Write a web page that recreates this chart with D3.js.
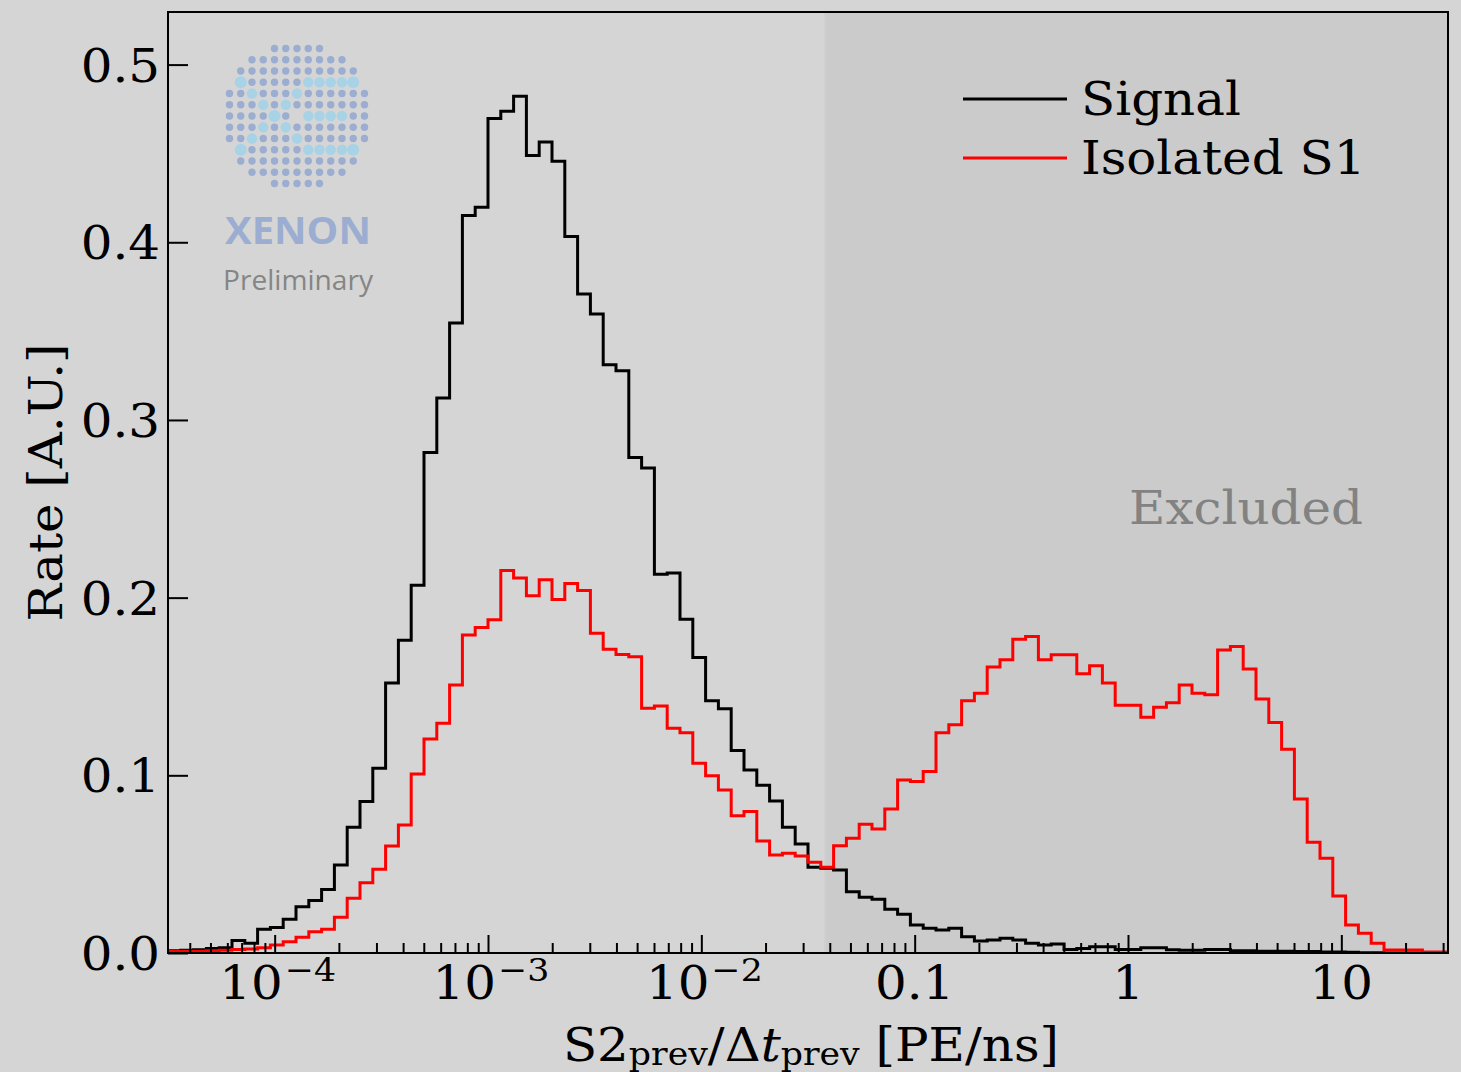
<!DOCTYPE html>
<html>
<head>
<meta charset="utf-8">
<script src="https://cdn.jsdelivr.net/npm/d3@7"></script>
<style>
  html, body { margin: 0; padding: 0; background: #d5d5d5; }
  svg { display: block; }
</style>
</head>
<body>
<svg id="chart" width="1461" height="1072"></svg>
<script>
// ---------------- DATA ----------------
const seriesNames = ["Signal", "Isolated S1"];
const seriesColors = ["#000000", "#ff0000"];
// log-spaced histogram: 100 bins from 10^-4.5 to 10^1.5 PE/ns
const binLogMin = -4.5;
const binLogMax = 1.5;
const signalRate = [
  0.0012, 0.0015, 0.0018, 0.0025, 0.0030, 0.0070, 0.0055, 0.0133, 0.0143, 0.0190,
  0.0260, 0.0295, 0.0358, 0.0495, 0.0708, 0.0852, 0.1040, 0.1520, 0.1760, 0.2070,
  0.2817, 0.3123, 0.3546, 0.4150, 0.4197, 0.4696, 0.4737, 0.4822, 0.4488, 0.4565,
  0.4456, 0.4033, 0.3709, 0.3596, 0.3311, 0.3277, 0.2789, 0.2729, 0.2132, 0.2138,
  0.1879, 0.1663, 0.1419, 0.1374, 0.1139, 0.1030, 0.0944, 0.0856, 0.0708, 0.0614,
  0.0483, 0.0477, 0.0467, 0.0345, 0.0314, 0.0302, 0.0246, 0.0218, 0.0158, 0.0139,
  0.0130, 0.0139, 0.0092, 0.0068, 0.0073, 0.0083, 0.0073, 0.0055, 0.0045, 0.0050,
  0.0020, 0.0025, 0.0035, 0.0035, 0.0020, 0.0020, 0.0030, 0.0030, 0.0018, 0.0015,
  0.0015, 0.0020, 0.0020, 0.0012, 0.0012, 0.0010, 0.0010, 0.0010, 0.0008, 0.0008,
  0.0006, 0.0005, 0.0004, 0.0002, 0.0001, 0.0000, 0.0000, 0.0000, 0.0000, 0.0000
];
const isolatedS1Rate = [
  0.0008, 0.0010, 0.0010, 0.0012, 0.0015, 0.0020, 0.0022, 0.0030, 0.0045, 0.0064,
  0.0088, 0.0120, 0.0133, 0.0201, 0.0308, 0.0396, 0.0471, 0.0602, 0.0721, 0.1008,
  0.1205, 0.1293, 0.1509, 0.1790, 0.1832, 0.1875, 0.2153, 0.2110, 0.2010, 0.2100,
  0.1990, 0.2080, 0.2040, 0.1800, 0.1710, 0.1680, 0.1668, 0.1378, 0.1390, 0.1265,
  0.1240, 0.1068, 0.0998, 0.0918, 0.0773, 0.0796, 0.0630, 0.0552, 0.0561, 0.0546,
  0.0511, 0.0483, 0.0604, 0.0646, 0.0725, 0.0698, 0.0811, 0.0974, 0.0965, 0.1021,
  0.1240, 0.1284, 0.1420, 0.1462, 0.1609, 0.1650, 0.1766, 0.1781, 0.1650, 0.1678,
  0.1678, 0.1571, 0.1616, 0.1519, 0.1395, 0.1395, 0.1327, 0.1383, 0.1409, 0.1509,
  0.1462, 0.1453, 0.1706, 0.1725, 0.1599, 0.1430, 0.1297, 0.1147, 0.0867, 0.0623,
  0.0533, 0.0321, 0.0158, 0.0111, 0.0055, 0.0017, 0.0017, 0.0017, 0.0005, 0.0005
];
const excludedFrom = 0.038;          // PE/ns, start of excluded region
const xMajorTicks = [1e-4, 1e-3, 1e-2, 0.1, 1, 10];
const xMajorLabels = [["10", "\u22124"], ["10", "\u22123"], ["10", "\u22122"], ["0.1", ""], ["1", ""], ["10", ""]];
const yTicks = [0, 0.1, 0.2, 0.3, 0.4, 0.5];
const yTickLabels = ["0.0", "0.1", "0.2", "0.3", "0.4", "0.5"];

// ---------------- LAYOUT ----------------
const W = 1461, H = 1072;
const plot = { left: 168, top: 12, right: 1448, bottom: 953 };
const serif = "'DejaVu Serif', serif";
const fs = 46;
const sx = 1.085;   // horizontal stretch of the reference's text

const svg = d3.select("#chart");
svg.append("rect").attr("width", W).attr("height", H).attr("fill", "#d5d5d5");

const x = d3.scaleLog().domain([Math.pow(10, binLogMin), Math.pow(10, binLogMax)]).range([plot.left, plot.right]);
const y = d3.scaleLinear().domain([0, 0.5296]).range([plot.bottom, plot.top]);

function stretchedText(parent, tx, ty, rot) {
  return parent.append("text")
    .attr("transform", `translate(${tx},${ty})` + (rot ? ` rotate(${rot})` : "") + ` scale(${sx},1)`)
    .attr("font-family", serif).attr("font-size", fs).attr("fill", "#000");
}

// excluded region
svg.append("rect")
  .attr("x", x(excludedFrom)).attr("y", plot.top)
  .attr("width", plot.right - x(excludedFrom)).attr("height", plot.bottom - plot.top)
  .attr("fill", "#cbcbcb");
svg.append("line")
  .attr("x1", x(excludedFrom)).attr("x2", x(excludedFrom))
  .attr("y1", plot.top).attr("y2", plot.bottom)
  .attr("stroke", "#d0d0d0").attr("stroke-width", 2);

stretchedText(svg, 1246, 524).attr("text-anchor", "middle").attr("fill", "#828282").text("Excluded");

// ---------------- LOGO ----------------
const logo = svg.append("g").attr("transform", "translate(297,116)");
const rowCols = { "-6": 2, "-5": 4, "-4": 5, "-3": 5, "-2": 6, "-1": 6, "0": 6, "1": 6, "2": 6, "3": 5, "4": 5, "5": 4, "6": 2 };
const lightDots = new Set([
  "-3,-5", "-3,1", "-3,2", "-3,3", "-3,4", "-3,5",
  "-2,-4", "-2,0", "-1,-3", "-1,-1",
  "0,-2", "0,1", "0,2", "0,3", "0,4",
  "1,-3", "1,-1", "2,-4", "2,0",
  "3,-5", "3,1", "3,2", "3,3", "3,4", "3,5"
]);
const dotData = [];
for (let r = -6; r <= 6; r++) {
  const m = rowCols[String(r)];
  for (let c = -m; c <= m; c++) {
    if (r === 0 && c === 0) continue;
    dotData.push({ r, c, light: lightDots.has(r + "," + c) });
  }
}
const sp = 11.25;
logo.selectAll("circle").data(dotData).join("circle")
  .attr("cx", d => d.c * sp).attr("cy", d => d.r * sp)
  .attr("r", d => d.light ? ((Math.abs(d.c) === 5 || (d.c === -2 && d.r === 0)) ? 6 : 5.2) : 3.7)
  .attr("fill", d => d.light ? "#a8d3e6" : "#9badd0");
svg.append("text")
  .attr("x", 298).attr("y", 244).attr("text-anchor", "middle")
  .attr("font-family", "'Open Sans', sans-serif").attr("font-weight", 700)
  .attr("font-size", 38).attr("fill", "#9badd0")
  .attr("textLength", 146).attr("lengthAdjust", "spacingAndGlyphs")
  .text("XENON");
svg.append("text")
  .attr("x", 298).attr("y", 290).attr("text-anchor", "middle")
  .attr("font-family", "'Open Sans', sans-serif")
  .attr("font-size", 28).attr("fill", "#858585")
  .attr("textLength", 150).attr("lengthAdjust", "spacingAndGlyphs")
  .text("Preliminary");

// ---------------- HISTOGRAMS ----------------
const nBins = signalRate.length;
const edges = d3.range(nBins + 1).map(i => Math.pow(10, binLogMin + (binLogMax - binLogMin) * i / nBins));

function stepPoints(vals) {
  const pts = [[edges[0], 0]];
  vals.forEach((v, i) => pts.push([edges[i], v]));
  pts.push([edges[nBins], vals[nBins - 1]]);
  pts.push([edges[nBins], 0]);
  return pts;
}
const line = d3.line().x(d => x(d[0])).y(d => y(d[1])).curve(d3.curveStepAfter);

svg.append("clipPath").attr("id", "clip").append("rect")
  .attr("x", plot.left).attr("y", plot.top)
  .attr("width", plot.right - plot.left).attr("height", plot.bottom - plot.top);

const seriesData = [signalRate, isolatedS1Rate];
svg.append("g").attr("clip-path", "url(#clip)")
  .selectAll("path").data(seriesData).join("path")
  .attr("d", d => line(stepPoints(d)))
  .attr("fill", "none")
  .attr("stroke", (d, i) => seriesColors[i])
  .attr("stroke-width", 3)
  .attr("stroke-linejoin", "miter");

// ---------------- AXES ----------------
const minorTicks = [];
for (let e = -5; e <= 1; e++) {
  for (let m = 2; m <= 9; m++) {
    const v = m * Math.pow(10, e);
    if (v >= x.domain()[0] && v <= x.domain()[1]) minorTicks.push(v);
  }
}
const xAxisMinor = d3.axisBottom(x).tickValues(minorTicks).tickSize(-10).tickFormat("");
const xAxisMajor = d3.axisBottom(x).tickValues(xMajorTicks).tickSize(-18).tickFormat("");
const gxm = svg.append("g").attr("transform", `translate(0,${plot.bottom})`).call(xAxisMinor);
const gxM = svg.append("g").attr("transform", `translate(0,${plot.bottom})`).call(xAxisMajor);
[gxm, gxM].forEach(g => {
  g.select(".domain").remove();
  g.selectAll(".tick line").attr("stroke", "#000").attr("stroke-width", 2);
});

// x tick labels with superscripts
const xl = svg.append("g");
xMajorTicks.forEach((v, i) => {
  const t = stretchedText(xl, x(v) + (xMajorLabels[i][1] ? 3 : 0), 999).attr("text-anchor", "middle");
  t.append("tspan").text(xMajorLabels[i][0]);
  if (xMajorLabels[i][1]) {
    t.append("tspan").attr("font-size", 32).attr("dy", -18).attr("dx", 2).text(xMajorLabels[i][1]);
  }
});

// y axis
const yAxis = d3.axisLeft(y).tickValues(yTicks).tickSize(-20).tickFormat("");
const gy = svg.append("g").attr("transform", `translate(${plot.left},0)`).call(yAxis);
gy.select(".domain").remove();
gy.selectAll(".tick line").attr("stroke", "#000").attr("stroke-width", 2);
yTicks.forEach((v, i) => {
  stretchedText(svg, 160, y(v) + 17).attr("text-anchor", "end").text(yTickLabels[i]);
});

// frame
svg.append("rect")
  .attr("x", plot.left).attr("y", plot.top)
  .attr("width", plot.right - plot.left).attr("height", plot.bottom - plot.top)
  .attr("fill", "none").attr("stroke", "#000").attr("stroke-width", 2);

// axis labels
stretchedText(svg, 62, (plot.top + plot.bottom) / 2, -90).attr("text-anchor", "middle").text("Rate [A.U.]");

const xlab = stretchedText(svg, 811, 1061).attr("text-anchor", "middle");
xlab.append("tspan").text("S2");
xlab.append("tspan").attr("font-size", 32).attr("dy", 4).text("prev");
xlab.append("tspan").attr("dy", -4).text("/\u0394");
xlab.append("tspan").attr("font-style", "italic").text("t");
xlab.append("tspan").attr("font-size", 32).attr("dy", 4).text("prev");
xlab.append("tspan").attr("dy", -4).text(" [PE/ns]");

// ---------------- LEGEND ----------------
const legend = svg.append("g");
seriesNames.forEach((name, i) => {
  const ly = 99 + i * 59;
  legend.append("line")
    .attr("x1", 963).attr("x2", 1067).attr("y1", ly).attr("y2", ly)
    .attr("stroke", seriesColors[i]).attr("stroke-width", 3);
  stretchedText(legend, 1081, ly + 16).text(name);
});
</script>
</body>
</html>
